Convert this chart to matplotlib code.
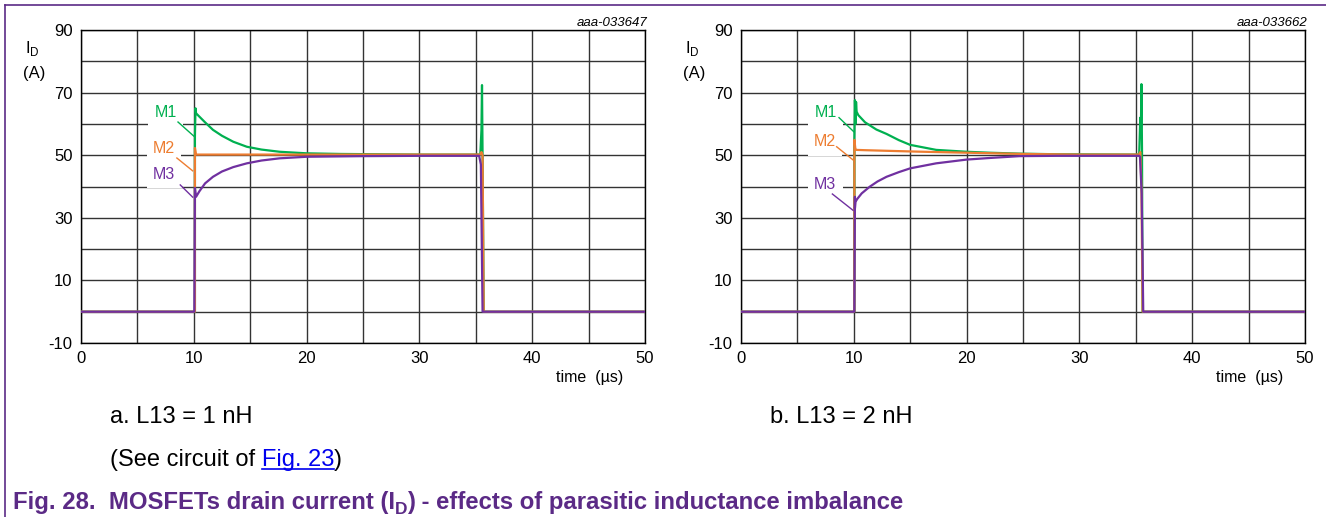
import matplotlib as mpl
mpl.use('Agg')
import matplotlib.pyplot as plt
from matplotlib.lines import Line2D

plt.rcParams['font.family'] = ['Liberation Sans', 'DejaVu Sans']
plt.rcParams['axes.unicode_minus'] = False

GREEN = '#00b050'
ORANGE = '#ed7d31'
PURPLE = '#7030a0'
CAPTION = '#5b2a86'

# panel a: L13 = 1 nH
a_m1_t = [0, 10.1, 10.1, 10.15, 10.2, 10.5, 11, 11.7, 12.5, 13.5, 14.7, 16, 17.6, 20, 23, 26.5, 30, 35.4, 35.5, 35.55, 35.6, 35.7, 50]
a_m1_v = [0, 0, 56, 65, 63.4, 62.3, 60.5, 58.1, 56.2, 54.3, 52.7, 51.8, 51.1, 50.6, 50.4, 50.3, 50.2, 50.2, 58, 72.4, 50, 0, 0]
a_m2_t = [0, 10.1, 10.1, 10.2, 35.4, 35.5, 35.6, 35.7, 50]
a_m2_v = [0, 0, 52.3, 50.2, 50.2, 51, 50, 0, 0]
a_m3_t = [0, 10.05, 10.1, 10.2, 10.5, 11, 11.7, 12.5, 13.5, 14.7, 16, 17.6, 20, 25, 30, 35.3, 35.45, 35.6, 50]
a_m3_v = [0, 0, 39.5, 36.7, 38.5, 41, 43.1, 44.8, 46.2, 47.4, 48.3, 49.0, 49.5, 49.7, 49.8, 49.8, 47, 0, 0]

# panel b: L13 = 2 nH
b_m1_t = [0, 10.05, 10.05, 10.1, 10.15, 10.2, 10.25, 10.4, 11, 12, 12.9, 14, 15, 17.3, 20, 22, 24.7, 28, 35.3, 35.4, 35.45, 35.5, 35.55, 35.6, 50]
b_m1_v = [0, 0, 55, 67.6, 60, 67, 63.9, 62.8, 60.5, 58.2, 56.8, 54.8, 53.3, 51.7, 51.1, 50.8, 50.5, 50.3, 50.2, 62, 58, 72.7, 52, 0, 0]
b_m2_t = [0, 10.05, 10.05, 10.15, 10.2, 11, 13, 15, 17.3, 20, 22.5, 25, 30, 35.3, 35.4, 35.5, 35.6, 50]
b_m2_v = [0, 0, 54.9, 51.7, 51.7, 51.6, 51.4, 51.2, 51.0, 50.8, 50.6, 50.4, 50.2, 50.2, 51, 40, 0, 0]
b_m3_t = [0, 10.05, 10.1, 10.1, 10.15, 10.3, 10.7, 11.4, 12.1, 12.9, 14, 15, 17.3, 20, 22, 24.7, 28, 35.3, 35.37, 35.52, 35.6, 35.66, 50]
b_m3_v = [0, 0, 36.7, 33.0, 35.1, 36.0, 37.8, 39.9, 41.6, 43.1, 44.6, 45.8, 47.4, 48.6, 49.1, 49.7, 49.8, 49.8, 49.5, 37.8, 16.5, 0, 0]

names = ['M1', 'M2', 'M3']
colors = [GREEN, ORANGE, PURPLE]
# (text x, text y, leader start x, y, leader end x, y)
a_labels = [(7.49, 63.6, 8.6, 60.6, 10.0, 56.1),
            (7.36, 52.1, 8.5, 49.1, 9.9, 45.0),
            (7.36, 43.8, 8.8, 40.5, 9.9, 36.6)]
b_labels = [(7.49, 63.7, 8.69, 62.0, 10.0, 57.5),
            (7.45, 54.3, 8.48, 52.7, 9.93, 48.5),
            (7.45, 40.6, 8.1, 37.6, 9.93, 32.4)]

fig = plt.figure(figsize=(13.26, 5.17), dpi=100)


def panel(left, series, labels, code):
    ax = fig.add_axes([left, 1 - 343 / 517, 564 / 1326, 313 / 517])
    for (t, v), c in zip(series, colors):
        ax.plot(t, v, color=c, lw=1.6, zorder=3)
    for name, c, lab in zip(names, colors, labels):
        tx, ty, x0, y0, x1, y1 = lab
        ax.text(tx, ty, name, color=c, fontsize=11.5, ha='center', va='center', zorder=4,
                bbox=dict(boxstyle='square,pad=0.4', facecolor='white', edgecolor='none'))
        ax.plot([x0, x1], [y0, y1], color=c, lw=1.0, zorder=5)
    ax.set_xlim(0, 50)
    ax.set_ylim(-10, 90)
    ax.set_xticks(range(0, 51, 10))
    ax.set_xticks(range(5, 50, 10), minor=True)
    ax.set_yticks(range(-10, 91, 20))
    ax.set_yticks(range(0, 81, 20), minor=True)
    ax.grid(True, which='both', color='#333333', lw=1.0)
    ax.tick_params(which='both', length=0, labelsize=12, pad=6)
    for s in ax.spines.values():
        s.set_color('black')
        s.set_linewidth(1.0)
    ax.text(0.961, -0.109, 'time  (µs)', transform=ax.transAxes, ha='right', va='center', fontsize=11.5)
    ax.text(1.005, 1.023, code, transform=ax.transAxes, ha='right', va='center', fontsize=9.5, style='italic')
    ax.text(-0.087, 0.942, r'I$_\mathregular{D}$', transform=ax.transAxes, ha='center', va='center', fontsize=12)
    ax.text(-0.083, 0.86, '(A)', transform=ax.transAxes, ha='center', va='center', fontsize=12)
    return ax


panel(81 / 1326, [(a_m1_t, a_m1_v), (a_m2_t, a_m2_v), (a_m3_t, a_m3_v)], a_labels, 'aaa-033647')
panel(741 / 1326, [(b_m1_t, b_m1_v), (b_m2_t, b_m2_v), (b_m3_t, b_m3_v)], b_labels, 'aaa-033662')

# frame lines of the document figure
fig.add_artist(Line2D([5 / 1326, 5 / 1326], [0, 1 - 5 / 517], color=CAPTION, lw=1.2))
fig.add_artist(Line2D([5 / 1326, 1], [1 - 5 / 517, 1 - 5 / 517], color=CAPTION, lw=1.2))

fig.text(110 / 1326, 1 - 423 / 517, 'a. L13 = 1 nH', fontsize=17, va='baseline')
fig.text(770 / 1326, 1 - 423 / 517, 'b. L13 = 2 nH', fontsize=17, va='baseline')

t1 = fig.text(110 / 1326, 1 - 466 / 517, '(See circuit of ', fontsize=17, va='baseline')
t2 = fig.text(0, 0, 'Fig. 23', fontsize=17, color='#0000ee', va='baseline')
t3 = fig.text(0, 0, ')', fontsize=17, va='baseline')

c1 = fig.text(13 / 1326, 1 - 509 / 517, 'Fig. 28.  MOSFETs drain current (I', fontsize=17.2,
              fontweight='bold', color=CAPTION, va='baseline')
c2 = fig.text(0, 0, 'D', fontsize=12.5, fontweight='bold', color=CAPTION, va='baseline')
c3 = fig.text(0, 0, ') - effects of parasitic inductance imbalance', fontsize=17.2,
              fontweight='bold', color=CAPTION, va='baseline')

fig.canvas.draw()
r = fig.canvas.get_renderer()
W, H = fig.bbox.width, fig.bbox.height


def chain(prev, nxt, dy=0):
    bb = prev.get_window_extent(r)
    x, y = prev.get_position()
    nxt.set_position((bb.x1 / W, y + dy / H))


chain(t1, t2)
chain(t2, t3)
chain(c1, c2, dy=-5)
chain(c2, c3, dy=5)
fig.canvas.draw()
bb = t2.get_window_extent(r)
uy = t2.get_position()[1] - 3 / H
fig.add_artist(Line2D([bb.x0 / W, bb.x1 / W], [uy, uy], color='#0000ee', lw=1.2))

fig.savefig('out.png', dpi=100)
